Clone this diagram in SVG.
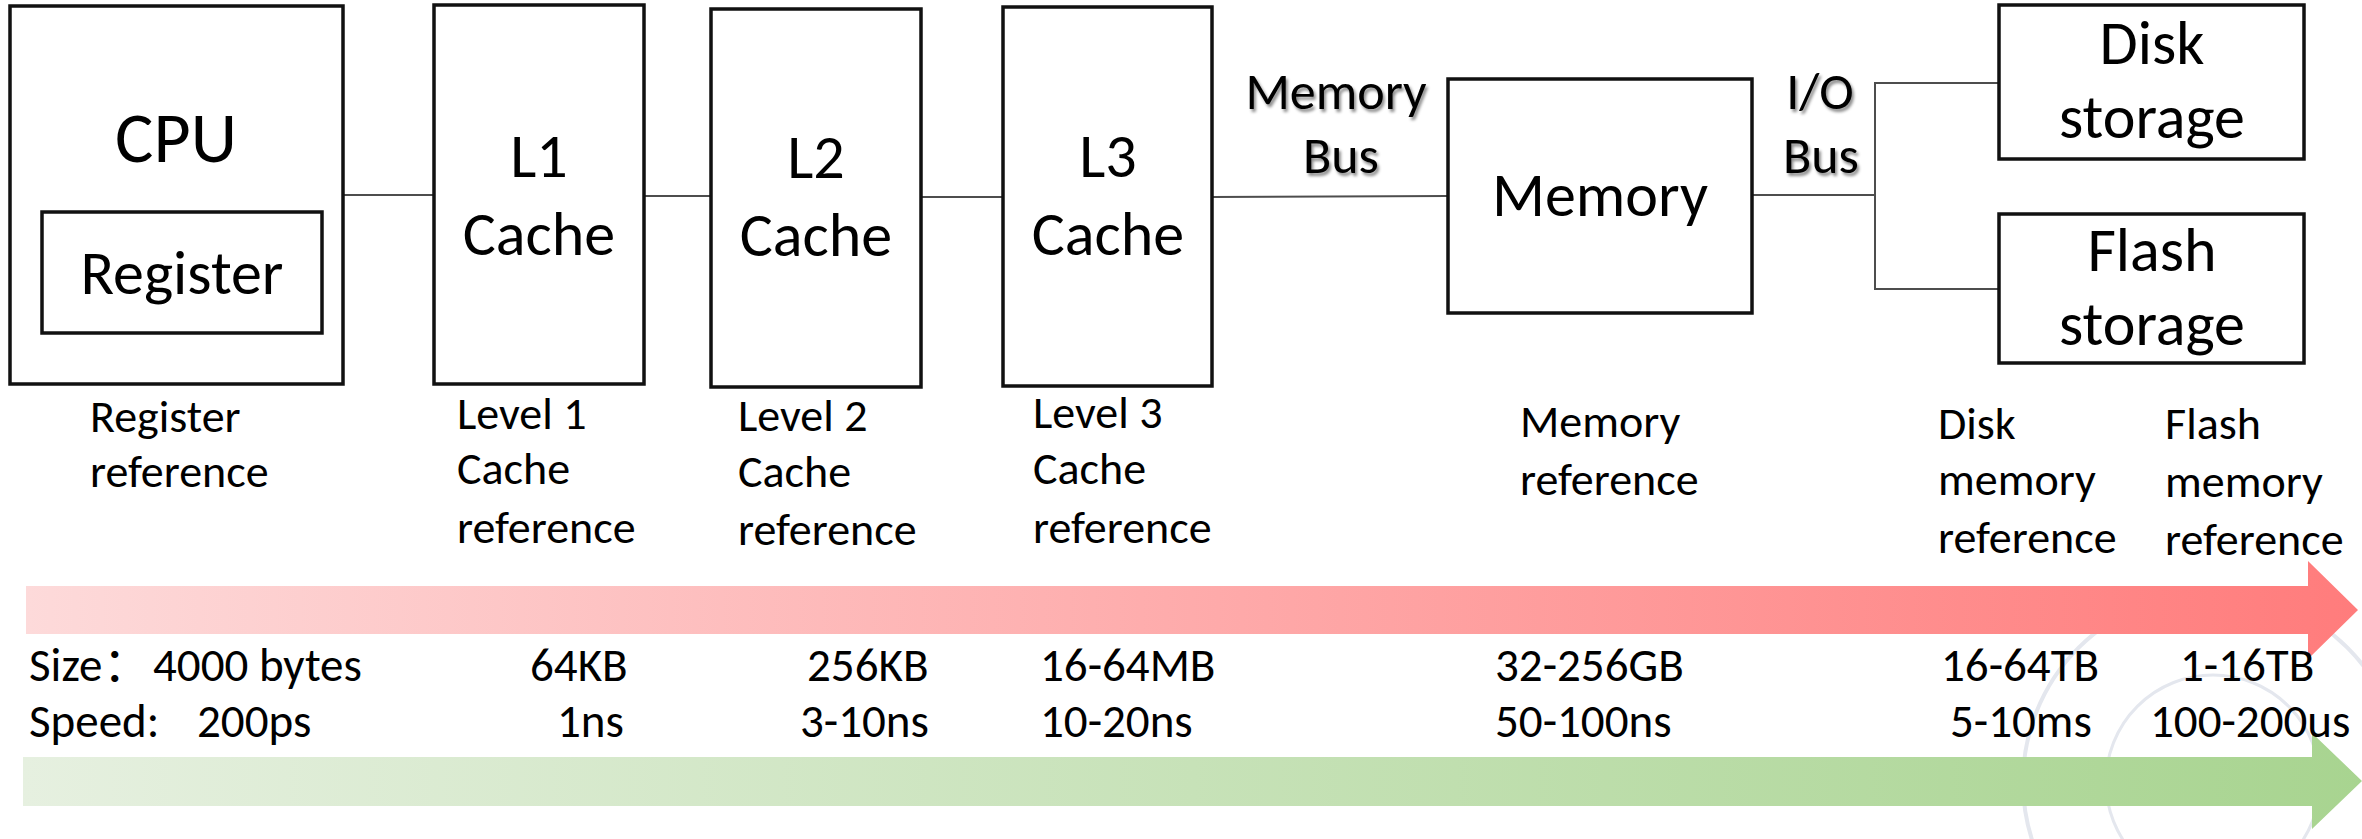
<svg xmlns="http://www.w3.org/2000/svg" width="2362" height="839" viewBox="0 0 2362 839">
<defs>
<linearGradient id="gRed" gradientUnits="userSpaceOnUse" x1="26" y1="0" x2="2358" y2="0">
<stop offset="0" stop-color="#FDDADA"/>
<stop offset="1" stop-color="#FF7C7C"/>
</linearGradient>
<linearGradient id="gGreen" gradientUnits="userSpaceOnUse" x1="23" y1="0" x2="2362" y2="0">
<stop offset="0" stop-color="#E6F0E0"/>
<stop offset="1" stop-color="#A8D490"/>
</linearGradient>
<filter id="shadow" x="-10%" y="-20%" width="130%" height="150%">
<feDropShadow dx="2" dy="3" stdDeviation="1.5" flood-color="#000" flood-opacity="0.45"/>
</filter>
</defs>
<style>
text{font-family:Carlito,Lato,"Noto Sans CJK SC",sans-serif;fill:#000}
.box{fill:#fff;stroke:#111;stroke-width:3.5}
.conn{stroke:#4d4d4d;stroke-width:2;fill:none}
.wm{fill:none;stroke:#E4E7EE}
.c{text-anchor:middle}
.f72{font-size:72px}
.f62{font-size:62px}
.f52{font-size:52px}
.f46{font-size:46px}
.f47{font-size:47px}
.sh{filter:url(#shadow)}
</style>
<rect width="2362" height="839" fill="#fff"/>
<g id="watermark">
<circle class="wm" cx="2213" cy="782" r="190" stroke-width="4"/>
<circle class="wm" cx="2213" cy="782" r="107" stroke-width="3"/>
</g>
<g id="connectors">
<line class="conn" x1="343" y1="195" x2="434" y2="195"/>
<line class="conn" x1="644" y1="196" x2="711" y2="196"/>
<line class="conn" x1="921" y1="197" x2="1003" y2="197"/>
<line class="conn" x1="1212" y1="197" x2="1448" y2="196"/>
<line class="conn" x1="1752" y1="195" x2="1875" y2="195"/>
<polyline class="conn" points="1999,83 1875,83 1875,289 1999,289"/>
</g>
<g id="cpu">
<rect class="box" x="10" y="6" width="333" height="378"/>
<text class="c f72" x="176" y="162">CPU</text>
</g>
<g id="register">
<rect class="box" x="42" y="212" width="280" height="121"/>
<text class="c f62" x="182" y="294">Register</text>
</g>
<g id="l1">
<rect class="box" x="434" y="5" width="210" height="379"/>
<text class="c f62" x="539" y="177">L1</text>
<text class="c f62" x="539" y="255">Cache</text>
</g>
<g id="l2">
<rect class="box" x="711" y="9" width="210" height="378"/>
<text class="c f62" x="816" y="178">L2</text>
<text class="c f62" x="816" y="256">Cache</text>
</g>
<g id="l3">
<rect class="box" x="1003" y="7" width="209" height="379"/>
<text class="c f62" x="1108" y="177">L3</text>
<text class="c f62" x="1108" y="255">Cache</text>
</g>
<g id="memory-bus">
<text class="c f52 sh" x="1336" y="109">Memory</text>
<text class="c f52 sh" x="1341" y="173">Bus</text>
</g>
<g id="memory">
<rect class="box" x="1448" y="79" width="304" height="234"/>
<text class="c f62" x="1600" y="216">Memory</text>
</g>
<g id="io-bus">
<text class="c f52 sh" x="1820" y="109">I/O</text>
<text class="c f52 sh" x="1821" y="173">Bus</text>
</g>
<g id="disk">
<rect class="box" x="1999" y="5" width="305" height="154"/>
<text class="c f62" x="2152" y="64">Disk</text>
<text class="c f62" x="2152" y="138">storage</text>
</g>
<g id="flash">
<rect class="box" x="1999" y="214" width="305" height="149"/>
<text class="c f62" x="2152" y="271">Flash</text>
<text class="c f62" x="2152" y="345">storage</text>
</g>
<g id="labels">
<text class="f46" x="90" y="432">Register</text>
<text class="f46" x="90" y="487">reference</text>
<text class="f46" x="457" y="429">Level 1</text>
<text class="f46" x="457" y="484">Cache</text>
<text class="f46" x="457" y="543">reference</text>
<text class="f46" x="738" y="431">Level 2</text>
<text class="f46" x="738" y="487">Cache</text>
<text class="f46" x="738" y="545">reference</text>
<text class="f46" x="1033" y="428">Level 3</text>
<text class="f46" x="1033" y="484">Cache</text>
<text class="f46" x="1033" y="543">reference</text>
<text class="f46" x="1520" y="437">Memory</text>
<text class="f46" x="1520" y="495">reference</text>
<text class="f46" x="1938" y="439">Disk</text>
<text class="f46" x="1938" y="495">memory</text>
<text class="f46" x="1938" y="553">reference</text>
<text class="f46" x="2165" y="439">Flash</text>
<text class="f46" x="2165" y="497">memory</text>
<text class="f46" x="2165" y="555">reference</text>
</g>
<g id="size-arrow">
<polygon fill="url(#gRed)" points="26,586 2308,586 2308,561 2358,610 2308,659 2308,634 26,634"/>
</g>
<g id="speed-arrow">
<polygon fill="url(#gGreen)" points="23,757 2312,757 2312,733 2362,781 2312,829 2312,806 23,806"/>
</g>
<g id="values">
<text class="f47" x="29" y="681">Size<tspan x="103">：</tspan><tspan x="153">4000 bytes</tspan></text>
<text class="f47" x="29" y="737">Speed: <tspan x="197">200ps</tspan></text>
<text class="f47" x="530" y="681">64KB</text>
<text class="f47" x="557" y="737">1ns</text>
<text class="f47" x="807" y="681">256KB</text>
<text class="f47" x="800" y="737">3-10ns</text>
<text class="f47" x="1040" y="681">16-64MB</text>
<text class="f47" x="1040" y="737">10-20ns</text>
<text class="f47" x="1495" y="681">32-256GB</text>
<text class="f47" x="1495" y="737">50-100ns</text>
<text class="f47" x="1941" y="681">16-64TB</text>
<text class="f47" x="1950" y="737">5-10ms</text>
<text class="f47" x="2180" y="681">1-16TB</text>
<text class="f47" x="2150" y="737">100-200us</text>
</g>
</svg>
